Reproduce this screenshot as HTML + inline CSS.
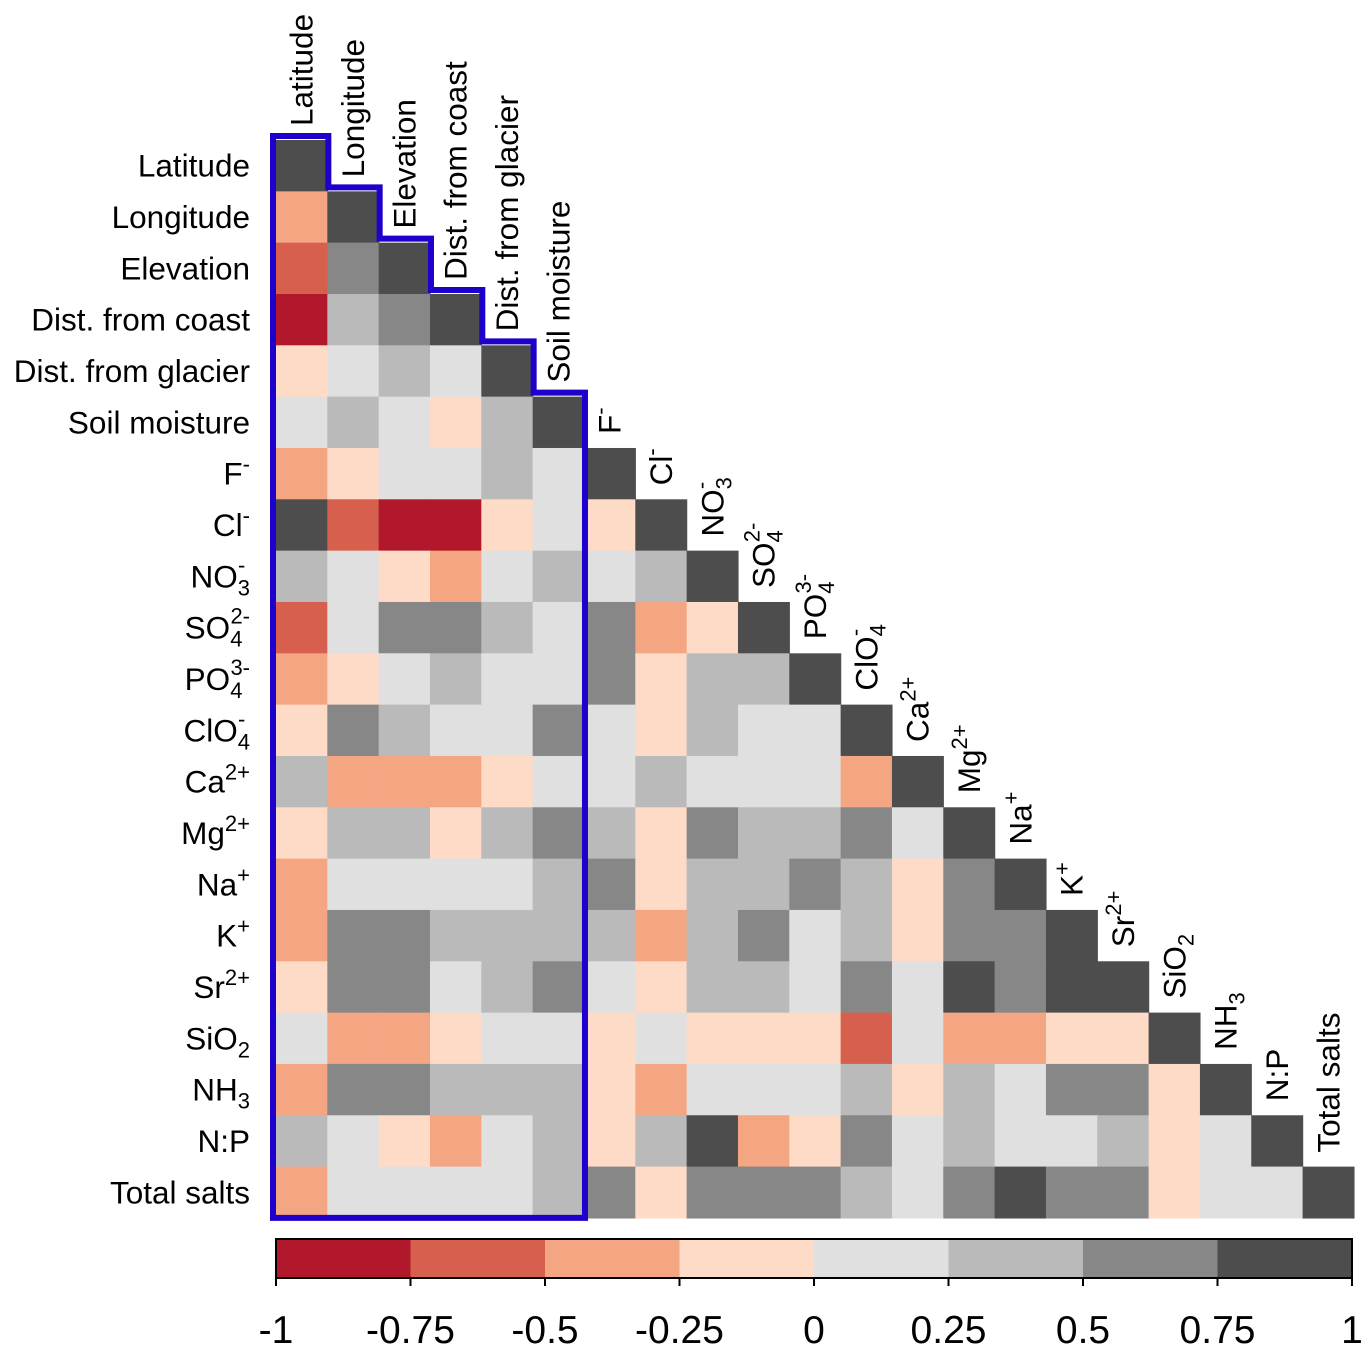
<!DOCTYPE html>
<html><head><meta charset="utf-8"><style>
body{margin:0;background:#fff}
svg{display:block;font-family:"Liberation Sans",Arial,sans-serif}
</style></head><body>
<svg id="chart" width="1369" height="1357" viewBox="0 0 1369 1357" xmlns="http://www.w3.org/2000/svg">
<g id="cells"></g>
<g id="rowlabels"></g>
<g id="collabels"></g>
<g id="outline"></g>
<g id="cbar"></g>
</svg>
<script>
// Variable labels (with sub/superscript markup)
const labels = ["Latitude","Longitude","Elevation","Dist. from coast","Dist. from glacier","Soil moisture",
"F|^-","Cl|^-","NO|_3^-","SO|_4^2-","PO|_4^3-","ClO|_4^-","Ca|^2+","Mg|^2+","Na|^+","K|^+","Sr|^2+","SiO|_2","NH|_3","N:P","Total salts"];
// Correlation bins per lower-triangle row (letter code -> representative value)
const rowsCode = [
"D","oD","rGD","RgGD","plglD","lglpgD","opllglD","DrRRplpD","glpolglgD","rlGGglGopD",
"oplgllGpggD","pGgllGlpgllD","gooopllglllоD","pggpgGgpGggGlD","ollllgGpggGgpGD",
"oGGggggogGlgpGGD","pGGlgGlpgglGlDGDD","loopllplppprlooppD",
"oGGgggpolllgpglGGpD","glpolgpgDopGlgllgplD","ollllgGpGGGglGDGGpllD"];
const codeValue = {R:-0.9,r:-0.6,o:-0.4,"о":-0.4,p:-0.1,l:0.1,g:0.4,G:0.6,D:0.9};
const values = rowsCode.map(s=>s.split("").map(c=>codeValue[c]));
// Colorbar
const binColors = ["#B2182B","#D6604D","#F4A582","#FDDBC7","#E0E0E0","#BABABA","#878787","#4D4D4D"];
const tickValues = [-1,-0.75,-0.5,-0.25,0,0.25,0.5,0.75,1];
const tickLabels = ["-1","-0.75","-0.5","-0.25","0","0.25","0.5","0.75","1"];

const NS="http://www.w3.org/2000/svg";
const x0=276,y0=140,cs=51.33;
const cx=i=>x0+i*cs, cy=i=>y0+i*cs;
function color(v){let b=Math.floor((v+1)/0.25);b=Math.max(0,Math.min(7,b));return binColors[b];}
function mk(t,a,p){const e=document.createElementNS(NS,t);for(const k in a)e.setAttribute(k,a[k]);p.appendChild(e);return e;}

const cells=document.getElementById('cells');
values.forEach((row,i)=>row.forEach((v,j)=>{
  const r=mk('rect',{x:cx(j),y:cy(i),width:cs+0.6,height:cs+0.6,fill:color(v)},cells);
  
  
}));

function fill(t,lab){
  const [base,rest]=lab.split("|");
  mk('tspan',{},t).textContent=base;
  if(!rest)return;
  const m=rest.match(/^(?:_(\w))?(?:\^(.+))?$/);
  const sub=m[1],sup=m[2];
  if(sub){const s=mk('tspan',{'font-size':'22','dy':'8'},t);s.textContent=sub;}
  if(sup){const s=mk('tspan',{'font-size':'22','dy':sub?'-23':'-13','dx':sub?'-12':'0'},t);s.textContent=sup;}
}
const rl=document.getElementById('rowlabels'),cl=document.getElementById('collabels');
labels.forEach((lab,i)=>{
  const t=mk('text',{x:250,y:cy(i)+cs/2+11,'font-size':31.5,'text-anchor':'end',fill:'#000'},rl);
  
  
  fill(t,lab);
  const X=cx(i)+cs/2+11,Y=cy(i)-14;
  const c=mk('text',{x:X,y:Y,'font-size':31.5,'text-anchor':'start',fill:'#000',transform:`rotate(-90 ${X} ${Y})`},cl);
  
  
  fill(c,lab);
});

// staircase outline around first six columns
const ol=document.getElementById('outline');
let d=`M${cx(0)-3} ${cy(21)} V${cy(0)-4}`;
for(let k=0;k<6;k++){d+=` H${cx(k+1)+1} V${cy(k+1)-4}`;}
d+=` V${cy(21)} Z`;
const p=mk('path',{d:d,fill:'none',stroke:'#1E00CC','stroke-width':6},ol);



// colorbar
const cb=document.getElementById('cbar');
const bx0=276,bx1=1352,by=1239,bh=39;
const bxs=v=>bx0+(v+1)/2*(bx1-bx0);
binColors.forEach((c,k)=>{
  const r=mk('rect',{x:bxs(-1+k*0.25),y:by,width:(bx1-bx0)/8,height:bh,fill:c},cb);
  
  
});
mk('rect',{x:bx0,y:by,width:bx1-bx0,height:bh,fill:'none',stroke:'#000','stroke-width':2},cb);
tickValues.forEach((v,k)=>{
  mk('line',{x1:bxs(v),x2:bxs(v),y1:by+bh,y2:by+bh+8,stroke:'#000','stroke-width':2},cb);
  const t=mk('text',{x:bxs(v),y:1343,'font-size':39,'text-anchor':'middle',fill:'#000'},cb);
  
  
  t.textContent=tickLabels[k];
});
</script>
</body></html>
